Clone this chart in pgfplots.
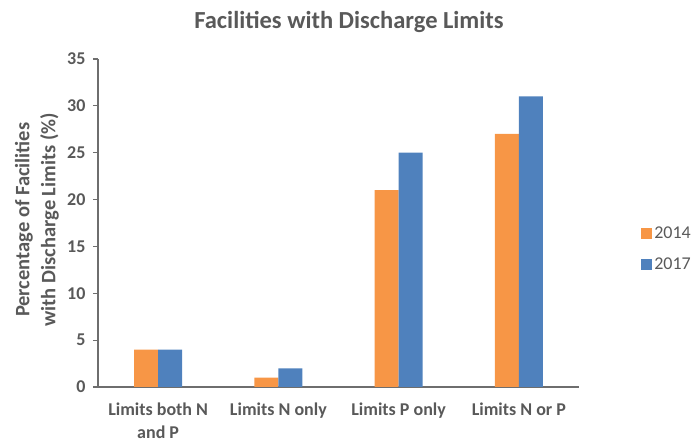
\documentclass[border=0pt]{standalone}
\usepackage{pgfplots}
\pgfplotsset{compat=1.18}
\usepackage{fontspec}
\setmainfont{Carlito}
\definecolor{txt}{HTML}{595959}
\definecolor{axc}{HTML}{6E6E6E}
\definecolor{or}{HTML}{F79646}
\definecolor{bl}{HTML}{4F81BD}
\begin{document}
\begin{tikzpicture}
\useasboundingbox (0,0) rectangle (697pt,444pt);
\node[font=\fontsize{24.5}{28}\selectfont\bfseries, text=txt] at (349pt,422pt) {Facilities with Discharge Limits};
\begin{axis}[
  at={(98pt,57pt)}, anchor=south west,
  scale only axis, width=481pt, height=328pt,
  ybar=0pt, bar width=24pt,
  xmin=-0.5, xmax=3.5, ymin=0, ymax=35,
  ytick={0,5,...,35},
  xtick={0,1,2,3},
  xticklabels={{Limits both N\\and P}, Limits N only, Limits P only, Limits N or P},
  axis x line*=bottom, axis y line*=left,
  axis line style={axc, line width=1.2pt, -},
  tick align=outside,
  y tick style={axc, line width=1.2pt},
  major tick length=5pt,
  x tick style={draw=none},
  ticklabel style={font=\fontsize{18}{23}\selectfont\bfseries, text=txt},
  /pgf/number format/assume math mode=true,
  yticklabel style={xshift=-4pt},
  xticklabel style={align=center, yshift=-7pt},
  ylabel={Percentage of Facilities\\with Discharge Limits (\%)},
  ylabel style={align=center, font=\fontsize{20.5}{26}\selectfont\bfseries, text=txt, at={(axis description cs:-0.127,0.51)}, anchor=center},
  legend style={draw=none, at={(axis description cs:1.129,0.42)}, anchor=west, font=\fontsize{18}{20}\selectfont, text=txt, row sep=14pt, fill=none, inner sep=0pt},
  legend cell align=left,
  legend image code/.code={\fill[#1] (0pt,-5.5pt) rectangle (11pt,5.5pt);},
]
\addplot[fill=or, draw=none] coordinates {(0,4) (1,1) (2,21) (3,27)};
\addplot[fill=bl, draw=none] coordinates {(0,4) (1,2) (2,25) (3,31)};
\legend{2014,2017}
\end{axis}
\end{tikzpicture}
\end{document}
